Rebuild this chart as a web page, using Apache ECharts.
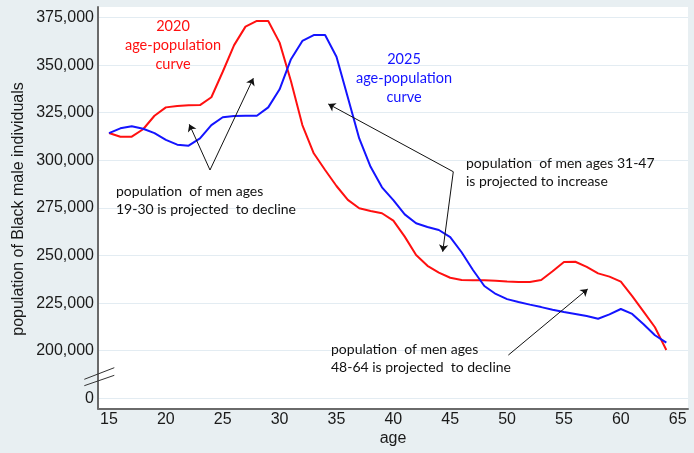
<!DOCTYPE html>
<html>
<head>
<meta charset="utf-8">
<script src="https://cdn.jsdelivr.net/npm/echarts@6/dist/echarts.min.js"></script>
<style>
html,body{margin:0;padding:0;background:#e8eff2;}
#chart{width:694px;height:453px;}
</style>
</head>
<body>
<div id="chart"></div>
<script>
// ---- data ----
const ages = [15,16,17,18,19,20,21,22,23,24,25,26,27,28,29,30,31,32,33,34,35,36,37,38,39,40,41,42,43,44,45,46,47,48,49,50,51,52,53,54,55,56,57,58,59,60,61,62,63,64];
const pop2020 = [314300,312400,312400,316300,323400,327800,328500,328900,329000,333100,346500,360500,370200,373200,373200,361800,341500,318500,303700,294900,286500,279200,274800,273400,272200,268300,259900,250300,244600,241000,238300,237100,237000,237000,236800,236400,236100,236100,237100,241700,246600,246700,244000,240600,238900,236300,228700,220500,212300,200400];
const pop2025 = [314300,316800,317900,316600,314300,310700,308200,307700,311500,318500,322600,323300,323400,323400,327800,337300,353100,362700,365800,365800,354400,333000,311500,296600,285800,279100,271600,266900,265000,263400,259700,251700,242400,234000,229800,227100,225600,224200,222900,221500,220300,219300,218200,216800,219100,221900,219300,213900,208100,204200];
const xTicks = [15,20,25,30,35,40,45,50,55,60,65];
const yTicks = [175000,200000,225000,250000,275000,300000,325000,350000,375000]; // 175000 slot shows "0" (axis break)
const yBreakValue = 175000;
const label2020 = "2020\nage-population\ncurve";
const label2025 = "2025\nage-population\ncurve";
const note1 = "population  of men ages\n19-30 is projected  to decline";
const note2 = "population  of men ages 31-47\nis projected to increase";
const note3 = "population  of men ages\n48-64 is projected  to decline";
const yTitle = "population of Black male individuals";
const xTitle = "age";
// arrows in data coordinates [age, value]
const arrows = [
  [[23.88,294900],[22.06,318900]],
  [[23.88,294900],[27.69,343100]],
  [[45.27,294000],[34.28,329600]],
  [[45.27,294000],[44.34,252000]],
  [[50.11,197700],[57.09,232400]]
];

const s2020 = ages.map((a,i)=>[a,pop2020[i]]);
const s2025 = ages.map((a,i)=>[a,pop2025[i]]);

const chart = echarts.init(document.getElementById('chart'));
const axisFont = {fontFamily:'"Liberation Sans", Arial, sans-serif', fontSize:16, color:'#1a1a1a'};
const noteFont = 'Lato, "Open Sans", sans-serif';

chart.setOption({
  backgroundColor:'#e8eff2',
  animation:false,
  grid:{left:98,right:6,top:7,bottom:44.5,show:true,backgroundColor:'#ffffff',borderWidth:0},
  xAxis:{
    type:'value', min:14.033, max:65.906,
    axisLine:{show:true,onZero:false,lineStyle:{color:'#6a6a6a',width:2}},
    axisTick:{show:false,customValues:xTicks},
    axisLabel:Object.assign({margin:3,customValues:xTicks},axisFont),
    splitLine:{show:false}
  },
  yAxis:{
    type:'value', min:169643, max:380515,
    axisLine:{show:true,lineStyle:{color:'#6a6a6a',width:2}},
    axisTick:{show:false,customValues:yTicks},
    axisLabel:Object.assign({margin:4,customValues:yTicks,
      formatter:v=> v===yBreakValue ? '0' : Math.round(v).toLocaleString('en-US')},axisFont),
    splitLine:{show:true,lineStyle:{color:'#e3ecf2',width:1}}
  },
  series:[
    {type:'line',name:'2020',data:s2020,symbol:'none',lineStyle:{color:'#ff1010',width:2},z:3,
      markLine:{silent:true,symbol:['none','arrow'],symbolSize:7,label:{show:false},
        lineStyle:{color:'#111',width:1,type:'solid'},
        data:arrows.map(a=>[{coord:a[0]},{coord:a[1]}])}},
    {type:'line',name:'2025',data:s2025,symbol:'none',lineStyle:{color:'#1414ff',width:2},z:3}
  ],
  graphic:[
    {type:'text',z:100,x:173,y:45,style:{text:label2020,fill:'#ff1010',font:'14.5px '+noteFont,textAlign:'center',textVerticalAlign:'middle',lineHeight:19}},
    {type:'text',z:100,x:404,y:78,style:{text:label2025,fill:'#1414ff',font:'14.5px '+noteFont,textAlign:'center',textVerticalAlign:'middle',lineHeight:19}},
    {type:'text',z:100,x:116,y:200,style:{text:note1,fill:'#111',font:'14px '+noteFont,textAlign:'left',textVerticalAlign:'middle',lineHeight:18}},
    {type:'text',z:100,x:466,y:172,style:{text:note2,fill:'#111',font:'14px '+noteFont,textAlign:'left',textVerticalAlign:'middle',lineHeight:18}},
    {type:'text',z:100,x:331,y:358,style:{text:note3,fill:'#111',font:'14px '+noteFont,textAlign:'left',textVerticalAlign:'middle',lineHeight:18}},
    {type:'text',z:100,x:18.5,y:209,rotation:Math.PI/2,style:{text:yTitle,fill:'#1a1a1a',font:'16px "Liberation Sans", Arial, sans-serif',textAlign:'center',textVerticalAlign:'middle'}},
    {type:'text',z:100,x:393,y:438.5,style:{text:xTitle,fill:'#1a1a1a',font:'16px "Liberation Sans", Arial, sans-serif',textAlign:'center',textVerticalAlign:'middle'}},
    {type:'line',z:100,shape:{x1:84.3,y1:379.3,x2:114.3,y2:367.7},style:{stroke:'#333',lineWidth:1}},
    {type:'line',z:100,shape:{x1:84.3,y1:385.7,x2:114.3,y2:375.3},style:{stroke:'#333',lineWidth:1}}
  ]
});
</script>
</body>
</html>
